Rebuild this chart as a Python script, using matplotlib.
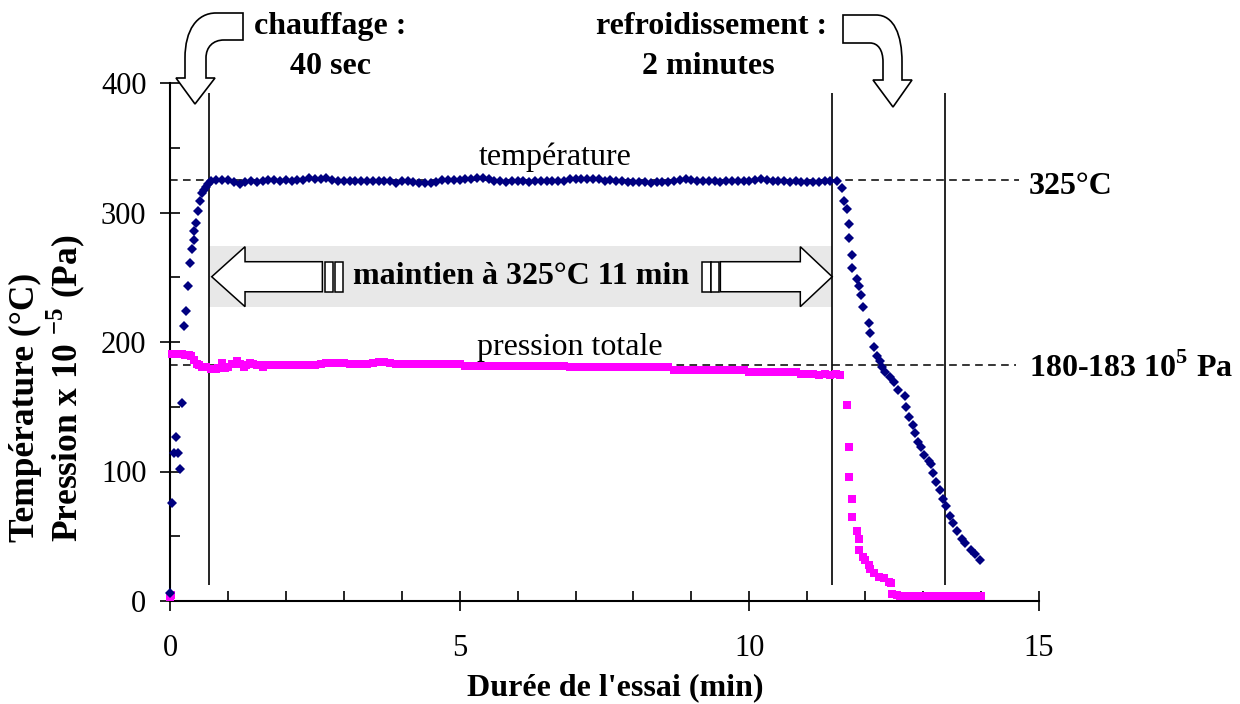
import matplotlib
matplotlib.use("Agg")
import matplotlib.pyplot as plt
import numpy as np
from matplotlib.path import Path
from matplotlib.patches import PathPatch, Polygon, Rectangle
from matplotlib.ticker import MultipleLocator

# temperature (degC) vs time (min)
t_temp_heat = [0.0, 0.03, 0.07, 0.1, 0.14, 0.18, 0.21, 0.24, 0.28, 0.31, 0.35,
               0.38, 0.41, 0.41, 0.45, 0.48, 0.52, 0.55, 0.59, 0.62, 0.65]
temp_heat = [6, 76, 114, 127, 114, 102, 153, 212, 224, 243, 261,
             272, 279, 286, 292, 301, 309, 315, 317, 320, 322]

t_temp_hold = np.round(np.arange(0.7, 11.45, 0.1), 2)
temp_hold = [324.0, 324.9, 325.4, 325.0, 323.6, 321.8, 323.6, 324.0, 323.5, 324.0,
             325.4, 325.4, 324.0, 324.8, 324.0, 324.8, 325.4, 326.6, 326.0, 325.8,
             327.0, 324.8, 324.0, 324.0, 324.0, 324.0, 324.6, 324.6, 324.6, 324.6,
             324.6, 324.0, 322.8, 324.0, 324.0, 323.3, 323.0, 323.0, 323.0, 323.5,
             324.9, 324.9, 324.9, 324.9, 325.9, 325.9, 326.5, 327.0, 325.5, 324.0,
             324.0, 323.8, 324.0, 324.0, 324.0, 323.8, 324.0, 324.0, 324.0, 324.0,
             324.0, 324.0, 325.5, 325.8, 325.8, 325.8, 325.8, 325.5, 324.5, 324.8,
             324.0, 324.0, 323.5, 323.5, 323.5, 323.5, 323.0, 323.5, 323.5, 323.5,
             324.0, 325.0, 325.5, 325.0, 324.0, 324.0, 324.0, 324.0, 323.8, 324.0,
             324.0, 324.0, 324.0, 324.5, 325.3, 325.5, 325.0, 324.5, 324.0, 324.0,
             323.8, 324.0, 323.5, 323.5, 323.5, 323.5, 324.0, 324.5]

t_temp_cool = [11.51, 11.60, 11.63, 11.69, 11.72, 11.72, 11.77, 11.77, 11.85, 11.89,
               11.92, 11.97, 12.06, 12.09, 12.16, 12.20, 12.25, 12.29, 12.35, 12.42,
               12.49, 12.56, 12.68, 12.71, 12.75, 12.83, 12.86, 12.91, 12.97, 13.02,
               13.10, 13.14, 13.17, 13.23, 13.29, 13.35, 13.40, 13.46, 13.52, 13.58,
               13.67, 13.73, 13.82, 13.90, 13.99]
temp_cool = [324, 319, 309, 303, 291, 280, 267, 257, 249, 243,
             236, 227, 215, 207, 196, 189, 185, 181, 177, 173,
             169, 163, 158, 150, 142, 136, 130, 123, 119, 113,
             108, 106, 99, 92, 86, 79, 73, 66, 60, 54,
             48, 45, 39, 36, 32]

# pressure (x 1e-5 Pa) vs time (min)
t_pres_heat = [0.0, 0.01, 0.03, 0.06, 0.1, 0.14, 0.2, 0.26, 0.32, 0.37, 0.42, 0.46,
               0.5, 0.55, 0.6, 0.63, 0.7, 0.75, 0.8, 0.83, 0.9, 0.95, 1.0, 1.07,
               1.15, 1.2, 1.27, 1.32, 1.38, 1.44, 1.5, 1.55, 1.61, 1.7]
pres_heat = [3, 5, 191, 191, 191, 191, 191, 190, 190, 189, 186, 183,
             182, 181, 181, 181, 179, 179, 179, 180, 184, 180, 181, 183,
             185, 183, 181, 182, 184, 183, 182, 182, 181, 182]

t_pres_hold = np.round(np.arange(1.8, 11.55, 0.1), 2)
pres_hold = [182.5, 182.5, 182.5, 182.5, 182.5, 182.5, 182.5, 182.5, 183.0, 183.5,
             183.5, 183.5, 183.5, 183.0, 183.0, 183.0, 183.0, 183.5, 184.5, 184.5,
             184.0, 183.0, 183.0, 183.0, 183.0, 183.0, 183.0, 183.0, 183.0, 183.0,
             183.0, 183.0, 183.0, 181.4, 181.4, 181.4, 181.4, 181.4, 181.4, 181.4,
             181.4, 181.4, 181.4, 181.4, 181.4, 181.4, 181.4, 181.4, 181.4, 181.4,
             181.4, 180.4, 180.4, 180.4, 180.4, 180.4, 180.4, 180.4, 180.4, 180.4,
             180.4, 180.4, 180.4, 180.4, 180.4, 180.4, 180.4, 180.4, 180.4, 178.5,
             178.5, 178.5, 178.5, 178.5, 178.5, 178.5, 178.5, 178.5, 178.5, 178.5,
             178.5, 178.5, 176.5, 176.5, 176.5, 176.5, 176.5, 176.5, 176.5, 176.5,
             176.5, 175.3, 175.3, 175.3, 174.5, 175.3, 174.8, 175.3]

t_pres_cool = [11.57, 11.68, 11.72, 11.72, 11.77, 11.77, 11.85, 11.89, 11.90, 11.96,
               12.00, 12.06, 12.09, 12.15, 12.23, 12.32, 12.41, 12.45, 12.46, 12.55]
pres_cool = [174.5, 151, 119, 96, 79, 65, 54, 48, 39, 34,
             32, 28, 24.5, 21.4, 18.8, 17.5, 14.9, 14.2, 5.4, 4.6]

t_pres_end = np.round(np.arange(12.6, 14.03, 0.05), 2)
pres_end = [4.2, 4.0, 4.0, 4.0, 4.2, 4.0, 4.0, 4.0, 4.0, 4.2,
            4.0, 4.0, 4.0, 4.0, 4.0, 4.2, 4.0, 4.0, 4.0, 4.0,
            4.0, 4.2, 4.0, 4.0, 4.0, 4.0, 4.0, 4.0, 4.2]

# annotation values
steps_x = [0.675, 11.42, 13.37]
temp_level = 325
pres_level = 182

NAVY = "#000080"
MAGENTA = "#ff00ff"

plt.rcParams['font.family'] = ['Liberation Serif', 'DejaVu Serif']
plt.rcParams['mathtext.fontset'] = 'custom'
plt.rcParams['mathtext.rm'] = 'Liberation Serif'
plt.rcParams['mathtext.bf'] = 'Liberation Serif:bold'

W, H = 1240, 704
fig = plt.figure(figsize=(W / 100, H / 100), dpi=100)
ax = fig.add_axes([170 / W, 103 / H, 869 / W, 518 / H])


def px(x, y):
    return (x / W, 1 - y / H)


t_temp = np.concatenate([t_temp_heat, t_temp_hold, t_temp_cool])
temp = np.concatenate([temp_heat, temp_hold, temp_cool])
t_pres = np.concatenate([t_pres_heat, t_pres_hold, t_pres_cool, t_pres_end])
pres = np.concatenate([pres_heat, pres_hold, pres_cool, pres_end])

# reference lines
ax.hlines(temp_level, 0, 14.65, colors="black", linestyles=(0, (5, 3.5)), lw=1.1, zorder=1)
ax.hlines(pres_level, 0, 14.6, colors="black", linestyles=(0, (5, 3.5)), lw=1.1, zorder=1)
ax.vlines(steps_x, 12.4, 392.3, colors="black", lw=1.2, zorder=3)

ax.plot(t_pres, pres, "s", color=MAGENTA, ms=5.2, mew=0, clip_on=False, zorder=4)
ax.plot(t_temp, temp, "D", color=NAVY, ms=4.8, mew=0, clip_on=False, zorder=5)

# grey band with double arrow
ax.add_patch(Rectangle((0.68, 227.3), 11.42 - 0.68, 274.1 - 227.3,
                       fc="#e8e8e8", ec="none", zorder=0.5))
left_arrow = [(0.72, 250.4), (1.295, 273.6), (1.295, 262), (2.63, 262),
              (2.63, 238.8), (1.295, 238.8), (1.295, 227.3)]
right_arrow = [(9.50, 262), (10.88, 262), (10.88, 273.6), (11.43, 250.4),
               (10.88, 227.3), (10.88, 238.8), (9.50, 238.8)]
for poly in (left_arrow, right_arrow):
    ax.add_patch(Polygon(poly, closed=True, fc="white", ec="black", lw=1.1, zorder=2))
for x0, w in [(2.68, 0.14), (2.85, 0.13), (9.18, 0.15), (9.34, 0.13)]:
    ax.add_patch(Rectangle((x0, 238.8), w, 23.2, fc="white", ec="black", lw=1.1, zorder=2))
ax.text(6.06, 250.5, "maintien à 325°C 11 min", ha="center", va="center",
        fontsize=23, fontweight="bold", zorder=3)

ax.text(6.65, 343, "température", ha="center", va="center", fontsize=23)
ax.text(6.9, 196, "pression totale", ha="center", va="center", fontsize=23)
ax.text(14.82, 314.3, "325°C", ha="left", va="baseline", fontsize=23, fontweight="bold")
ax.text(14.82, 173.2, r"180-183 10$^{\mathbf{5}}$ Pa", ha="left", va="baseline",
        fontsize=23, fontweight="bold")

# curved arrows at top (figure pixel coordinates)
M, L, C, Z = Path.MOVETO, Path.LINETO, Path.CURVE4, Path.CLOSEPOLY
left_pts = [(243, 13), (216, 13), (197, 13), (185, 30), (185, 58), (185, 78), (176, 78),
            (195, 104), (215, 78), (206, 78), (206, 58), (206, 47), (213, 40), (224, 40),
            (243, 40), (243, 13)]
left_codes = [M, L, C, C, C, L, L, L, L, L, L, C, C, C, L, Z]
right_pts = [(843, 15), (876, 15), (894, 15), (902, 35), (902, 62), (902, 80), (912, 80),
             (893, 107), (873, 80), (883, 80), (883, 62), (883, 50), (878, 43), (870, 43),
             (843, 43), (843, 15)]
right_codes = left_codes
for pts, codes in [(left_pts, left_codes), (right_pts, right_codes)]:
    path = Path([px(x, y) for x, y in pts], codes)
    fig.add_artist(PathPatch(path, fc="white", ec="black", lw=1.2,
                             transform=fig.transFigure))

fig.text(*px(330, 34), "chauffage :", ha="center", va="baseline", fontsize=23, fontweight="bold")
fig.text(*px(330, 74), "40 sec", ha="center", va="baseline", fontsize=23, fontweight="bold")
fig.text(*px(712, 34), "refroidissement :", ha="center", va="baseline", fontsize=23,
         fontweight="bold")
fig.text(*px(708, 74), "2 minutes", ha="center", va="baseline", fontsize=23, fontweight="bold")

# axes styling
ax.set_xlim(0, 15)
ax.set_ylim(0, 400)
ax.xaxis.set_major_locator(MultipleLocator(5))
ax.xaxis.set_minor_locator(MultipleLocator(1))
ax.yaxis.set_major_locator(MultipleLocator(100))
ax.yaxis.set_minor_locator(MultipleLocator(50))
ax.tick_params(which="major", direction="inout", length=14, width=1.2, labelsize=22)
ax.tick_params(which="minor", direction="in", length=7, width=1.2)
ax.tick_params(axis="x", which="major", pad=17)
ax.tick_params(axis="y", which="major", pad=10)
for s in ["top", "right"]:
    ax.spines[s].set_visible(False)
for s in ["left", "bottom"]:
    ax.spines[s].set_linewidth(1.5)

fig.text(*px(615, 688), "Durée de l'essai (min)", ha="center", va="center",
         fontsize=23, fontweight="bold")
fig.text(*px(48, 542), "Température (°C)\n" + r"Pression x 10 $^{\mathbf{-5}}$ (Pa)",
         rotation=90, ha="center", va="bottom", multialignment="left",
         fontsize=25.5, fontweight="bold", linespacing=1.08)

fig.savefig("out.png", dpi=100)
